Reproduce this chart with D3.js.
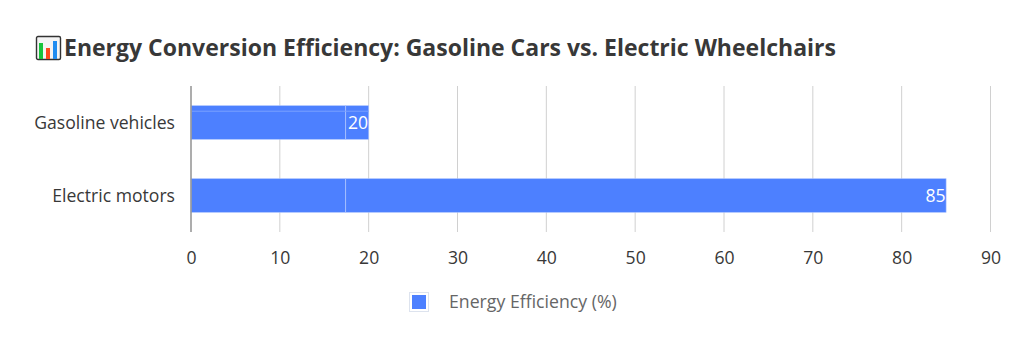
<!DOCTYPE html>
<html lang="en">
<head>
  <meta charset="UTF-8">
  <title>Energy Conversion Efficiency</title>
  <script src="https://d3js.org/d3.v7.min.js"></script>
  <style>
    html, body { margin: 0; padding: 0; background: #fff; }
    svg { display: block; font-family: "Open Sans", "Noto Sans", sans-serif; }
    .title { font-size: 23px; font-weight: 700; fill: #383838; }
    .axis text { font-family: "Open Sans", "Noto Sans", sans-serif; font-size: 17.6px; fill: #383838; }
    .axis .domain, .axis .tick line { display: none; }
    .grid line { stroke: #d0d0d0; stroke-width: 1px; }
    .legend-label { font-size: 17.7px; fill: #666; }
    .bar-label { font-size: 17.6px; fill: #fff; text-anchor: end; }
  </style>
</head>
<body>
  <svg width="1024" height="360"></svg>
  <script>
    var categories = ["Gasoline vehicles", "Electric motors"];
    var efficiency = [20, 85];
    var xTicks = [0, 10, 20, 30, 40, 50, 60, 70, 80, 90];
    var seriesName = "Energy Efficiency (%)";
    var titleText = "Energy Conversion Efficiency: Gasoline Cars vs. Electric Wheelchairs";
    // faint seam visible in both bars
    var seamValue = 17.4;

    var svg = d3.select("svg"),
        margin = {top: 86, right: 33.5, bottom: 128, left: 191},
        width = +svg.attr("width") - margin.left - margin.right,
        height = +svg.attr("height") - margin.top - margin.bottom,
        g = svg.append("g").attr("transform", "translate(" + margin.left + "," + margin.top + ")");

    var barColor = "#4d80ff", barEdge = "#a6bfff";

    var x = d3.scaleLinear().domain([0, 90]).range([0, width]);
    var y = d3.scaleBand().domain(categories).range([0, height]).paddingInner(0.54).paddingOuter(0.27);

    // title with the little chart icon in front
    var icon = svg.append("g").attr("transform", "translate(36,36)");
    icon.append("rect").attr("x", 0.5).attr("y", 0.5).attr("width", 24).attr("height", 23).attr("rx", 1.5)
      .attr("fill", "#f4f4f4").attr("stroke", "#333").attr("stroke-width", 1.4);
    [[3, 7, "#17c43c"], [10, 12, "#ff4a1c"], [17, 5, "#1f8cf0"]].forEach(function(b) {
      icon.append("rect").attr("x", b[0]).attr("y", b[1]).attr("width", 4).attr("height", 23 - b[1]).attr("fill", b[2]);
    });
    svg.append("text").attr("class", "title").attr("x", 64).attr("y", 56).text(titleText);

    // vertical gridlines
    g.append("g").attr("class", "grid").selectAll("line")
      .data(xTicks.slice(1)).enter().append("line")
      .attr("x1", function(d) { return x(d); })
      .attr("x2", function(d) { return x(d); })
      .attr("y1", 0).attr("y2", height);

    // bars
    var rows = categories.map(function(c, i) { return {name: c, value: efficiency[i]}; });
    g.selectAll(".bar").data(rows).enter().append("rect")
      .attr("class", "bar")
      .attr("x", x(0))
      .attr("y", function(d) { return y(d.name); })
      .attr("width", function(d) { return x(d.value) - x(0); })
      .attr("height", y.bandwidth())
      .attr("fill", barColor)
      .attr("stroke", barEdge)
      .attr("stroke-width", 0.6);

    g.selectAll(".seam").data(rows).enter().append("line")
      .attr("class", "seam")
      .attr("x1", x(seamValue)).attr("x2", x(seamValue))
      .attr("y1", function(d) { return y(d.name); })
      .attr("y2", function(d) { return y(d.name) + y.bandwidth(); })
      .attr("stroke", barEdge).attr("stroke-width", 1);

    // the top bar also has a light stripe near its upper edge
    g.append("line")
      .attr("x1", x(0)).attr("x2", x(efficiency[0]))
      .attr("y1", y(categories[0]) + 5.5).attr("y2", y(categories[0]) + 5.5)
      .attr("stroke", "#7ba1ff").attr("stroke-width", 1);

    g.selectAll(".bar-label").data(rows).enter().append("text")
      .attr("class", "bar-label")
      .attr("x", function(d) { return x(d.value) - 0.5; })
      .attr("y", function(d) { return y(d.name) + y.bandwidth() / 2; })
      .attr("dy", "0.36em")
      .text(function(d) { return d.value; });

    // zero line sits above the bars
    g.append("line").attr("x1", x(0)).attr("x2", x(0)).attr("y1", 0).attr("y2", height)
      .attr("stroke", "#999").attr("stroke-width", 1.6);

    // axes
    g.append("g").attr("class", "axis")
      .attr("transform", "translate(0," + height + ")")
      .call(d3.axisBottom(x).tickValues(xTicks).tickSize(0).tickPadding(20));
    g.append("g").attr("class", "axis")
      .call(d3.axisLeft(y).tickSize(0).tickPadding(16))
      .selectAll("text").attr("dy", "0.38em");

    // legend
    var legend = svg.append("g").attr("transform", "translate(409,292)");
    legend.append("rect").attr("x", 0.5).attr("y", 0.5).attr("width", 19).attr("height", 19)
      .attr("fill", "#fff").attr("stroke", "#dde3ee");
    legend.append("rect").attr("x", 3).attr("y", 3).attr("width", 14).attr("height", 14).attr("fill", barColor);
    legend.append("text").attr("class", "legend-label").attr("x", 40).attr("y", 10).attr("dy", "0.36em").text(seriesName);
  </script>
</body>
</html>
